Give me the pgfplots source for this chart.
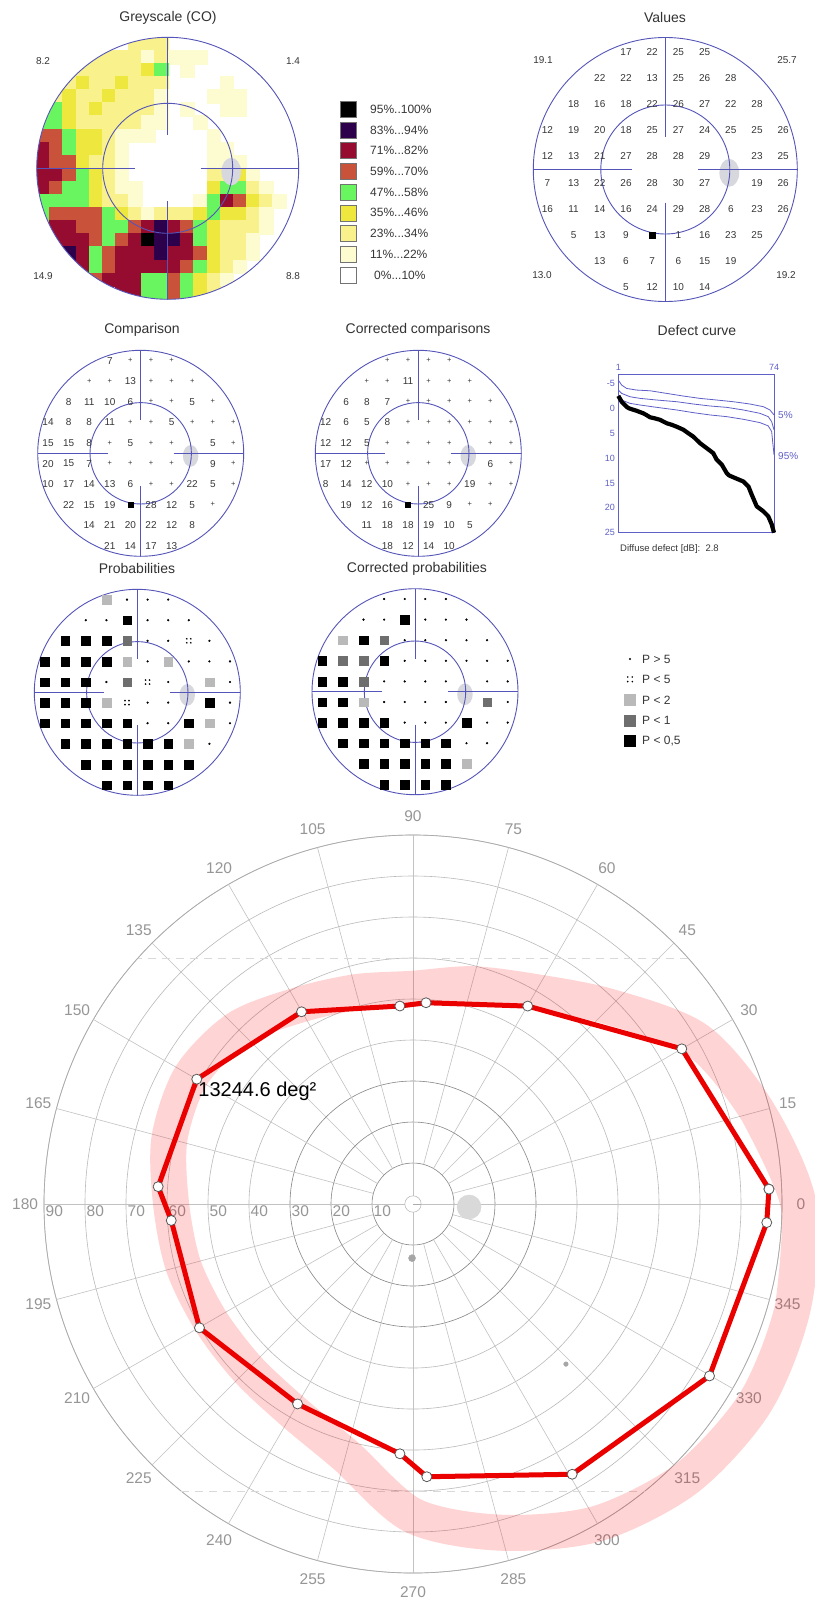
\documentclass[border=0pt]{standalone}
\usepackage{pgfplots}
\pgfplotsset{compat=1.18}
\usepgfplotslibrary{polar}
\usepackage{fontspec}
\setmainfont{Liberation Sans}
\definecolor{fld}{RGB}{85,85,185}
\definecolor{bspot}{RGB}{215,215,222}
\definecolor{txt}{RGB}{55,55,55}
\definecolor{ttlc}{RGB}{50,50,50}
\definecolor{gc1}{RGB}{253,251,208}
\definecolor{gc2}{RGB}{248,241,140}
\definecolor{gc3}{RGB}{238,232,62}
\definecolor{gc4}{RGB}{105,245,95}
\definecolor{gc5}{RGB}{200,82,58}
\definecolor{gc6}{RGB}{150,12,48}
\definecolor{gc7}{RGB}{45,0,75}
\definecolor{gc8}{RGB}{0,0,0}
\definecolor{defblue}{RGB}{95,95,200}
\definecolor{plab}{RGB}{150,150,150}
\definecolor{plight}{RGB}{185,185,185}
\definecolor{pmid}{RGB}{110,110,110}
\pgfdeclareplotmark{fourdots}{%
 \pgfpathcircle{\pgfqpoint{2pt}{2pt}}{0.9pt}%
 \pgfpathcircle{\pgfqpoint{-2pt}{2pt}}{0.9pt}%
 \pgfpathcircle{\pgfqpoint{2pt}{-2pt}}{0.9pt}%
 \pgfpathcircle{\pgfqpoint{-2pt}{-2pt}}{0.9pt}%
 \pgfusepathqfill}
\newcommand\fieldframe[4]{%
 \begin{scope}[shift={(#1pt,-#2pt)}]
  \fill[bspot] ({0.485*#3},{-0.025*#3}) ellipse [x radius={0.075*#3}, y radius={0.105*#3}];
  \draw[fld, line width=0.9pt] (0,0) circle [radius=#3];
  \draw[fld, line width=0.9pt] (0,0) circle [radius=#4];
  \draw[fld, line width=0.75pt] (-#3,0) -- (-33,0) (33,0) -- (#3,0) (0,#3) -- (0,33) (0,-33) -- (0,-#3);
 \end{scope}}
\newcommand\ttl[3]{\node[font=\fontsize{14}{16}\selectfont, text=ttlc] at (#1,-#2) {#3};}
\newcommand\crn[3]{\node[font=\fontsize{10}{12}\selectfont, text=txt] at (#1,-#2) {#3};}
\newcommand\lgsq[3]{\filldraw[fill=#1,draw=black!55,line width=0.6pt] (340.7,{-#2+8}) rectangle (356.7,{-#2-8});
 \node[anchor=west,inner sep=0pt,font=\fontsize{12}{14}\selectfont,text=txt] at (370,-#2) {#3};}
\pgfplotsset{fieldax/.style={hide axis, scale only axis, xmin=-30,xmax=30,ymin=-30,ymax=30, clip=false, anchor=center},
 numstyle/.style={draw=none, mark=none, nodes near coords, point meta=explicit symbolic, nodes near coords align=center,
   nodes near coords style={font=\fontsize{10}{12}\selectfont, text=txt, inner sep=0pt}},
 plusstyle/.style={draw=none, mark=none, nodes near coords, point meta=explicit symbolic, nodes near coords align=center,
   nodes near coords style={font=\fontsize{7.5}{8}\selectfont, text=txt, inner sep=0pt}},
 probstyle/.style={scatter, only marks, scatter src=explicit symbolic,
   scatter/classes={b={mark=square*,fill=black,draw=black,mark size=4.3pt},
     m={mark=square*,fill=pmid,draw=pmid,mark size=4.3pt},
     l={mark=square*,fill=plight,draw=plight,mark size=4.3pt},
     d={mark=*,fill=black,draw=black,mark size=0.9pt},
     q={mark=fourdots,fill=black,draw=black}}}}
\begin{document}
\begin{tikzpicture}[x=1pt,y=1pt]
\fill[white] (0,0) rectangle (814,-1603);
\path[use as bounding box] (0,0) rectangle (814,-1603);
% ---------------- Greyscale map ----------------
\begin{axis}[hide axis, scale only axis, width=262pt, height=262pt, xmin=-10,xmax=10,ymin=-10,ymax=10,
  at={(167.7pt,-168.3pt)}, anchor=center]
\addplot[scatter, only marks, scatter src=explicit symbolic, mark size=6.8pt,
 scatter/classes={a={mark=square*,fill=gc1,draw=gc1},b={mark=square*,fill=gc2,draw=gc2},
 c={mark=square*,fill=gc3,draw=gc3},d={mark=square*,fill=gc4,draw=gc4},e={mark=square*,fill=gc5,draw=gc5},
 f={mark=square*,fill=gc6,draw=gc6},g={mark=square*,fill=gc7,draw=gc7},h={mark=square*,fill=gc8,draw=gc8}}]
coordinates {
(-2.5,9.5)[b] (-1.5,9.5)[b] (-0.5,9.5)[b]
(-5.5,8.5)[b] (-4.5,8.5)[b] (-3.5,8.5)[b] (-2.5,8.5)[b] (-1.5,8.5)[a] (-0.5,8.5)[b] (0.5,8.5)[a] (1.5,8.5)[a] (2.5,8.5)[a]
(-6.5,7.5)[b] (-5.5,7.5)[b] (-4.5,7.5)[b] (-3.5,7.5)[b] (-2.5,7.5)[b] (-1.5,7.5)[c] (-0.5,7.5)[d] (1.5,7.5)[a]
(-7.5,6.5)[b] (-6.5,6.5)[c] (-5.5,6.5)[b] (-4.5,6.5)[b] (-3.5,6.5)[c] (-2.5,6.5)[b] (-1.5,6.5)[b] (-0.5,6.5)[b] (4.5,6.5)[a]
(-8.5,5.5)[b] (-7.5,5.5)[c] (-6.5,5.5)[b] (-5.5,5.5)[b] (-4.5,5.5)[c] (-3.5,5.5)[b] (-2.5,5.5)[b] (-1.5,5.5)[b] (-0.5,5.5)[a] (3.5,5.5)[a] (4.5,5.5)[a] (5.5,5.5)[a]
(-8.5,4.5)[d] (-7.5,4.5)[c] (-6.5,4.5)[b] (-5.5,4.5)[c] (-4.5,4.5)[b] (-3.5,4.5)[b] (-2.5,4.5)[b] (-1.5,4.5)[b] (-0.5,4.5)[a] (1.5,4.5)[a] (4.5,4.5)[a] (5.5,4.5)[a]
(-9.5,3.5)[d] (-8.5,3.5)[d] (-7.5,3.5)[c] (-6.5,3.5)[b] (-5.5,3.5)[b] (-4.5,3.5)[b] (-3.5,3.5)[b] (-2.5,3.5)[b] (-1.5,3.5)[a] (-0.5,3.5)[a] (2.5,3.5)[a]
(-9.5,2.5)[e] (-8.5,2.5)[e] (-7.5,2.5)[d] (-6.5,2.5)[c] (-5.5,2.5)[c] (-4.5,2.5)[b] (-3.5,2.5)[a] (-2.5,2.5)[a] (-1.5,2.5)[a] (3.5,2.5)[a]
(-9.5,1.5)[f] (-8.5,1.5)[e] (-7.5,1.5)[d] (-6.5,1.5)[c] (-5.5,1.5)[c] (-4.5,1.5)[b] (-3.5,1.5)[a] (3.5,1.5)[a] (4.5,1.5)[a]
(-9.5,0.5)[f] (-8.5,0.5)[e] (-7.5,0.5)[e] (-6.5,0.5)[c] (-5.5,0.5)[b] (-4.5,0.5)[b] (-3.5,0.5)[a] (3.5,0.5)[a] (4.5,0.5)[a] (5.5,0.5)[a]
(-9.5,-0.5)[f] (-8.5,-0.5)[f] (-7.5,-0.5)[e] (-6.5,-0.5)[d] (-5.5,-0.5)[c] (-4.5,-0.5)[b] (-3.5,-0.5)[a] (3.5,-0.5)[b] (4.5,-0.5)[b] (5.5,-0.5)[c] (6.5,-0.5)[a]
(-9.5,-1.5)[f] (-8.5,-1.5)[e] (-7.5,-1.5)[d] (-6.5,-1.5)[d] (-5.5,-1.5)[c] (-4.5,-1.5)[b] (-3.5,-1.5)[a] (-2.5,-1.5)[a] (3.5,-1.5)[c] (4.5,-1.5)[d] (5.5,-1.5)[d] (6.5,-1.5)[b] (7.5,-1.5)[a]
(-9.5,-2.5)[d] (-8.5,-2.5)[d] (-7.5,-2.5)[d] (-6.5,-2.5)[d] (-5.5,-2.5)[c] (-4.5,-2.5)[b] (-3.5,-2.5)[b] (-2.5,-2.5)[a] (2.5,-2.5)[a] (3.5,-2.5)[d] (4.5,-2.5)[f] (5.5,-2.5)[e] (6.5,-2.5)[c] (7.5,-2.5)[b] (8.5,-2.5)[a]
(-9.5,-3.5)[d] (-8.5,-3.5)[e] (-7.5,-3.5)[e] (-6.5,-3.5)[e] (-5.5,-3.5)[e] (-4.5,-3.5)[d] (-3.5,-3.5)[c] (-2.5,-3.5)[b] (-1.5,-3.5)[a] (-0.5,-3.5)[b] (0.5,-3.5)[b] (1.5,-3.5)[b] (2.5,-3.5)[c] (3.5,-3.5)[d] (4.5,-3.5)[c] (5.5,-3.5)[c] (6.5,-3.5)[b] (7.5,-3.5)[a]
(-8.5,-4.5)[f] (-7.5,-4.5)[f] (-6.5,-4.5)[e] (-5.5,-4.5)[e] (-4.5,-4.5)[d] (-3.5,-4.5)[d] (-2.5,-4.5)[e] (-1.5,-4.5)[f] (-0.5,-4.5)[g] (0.5,-4.5)[f] (1.5,-4.5)[e] (2.5,-4.5)[d] (3.5,-4.5)[c] (4.5,-4.5)[b] (5.5,-4.5)[b] (6.5,-4.5)[b] (7.5,-4.5)[a]
(-8.5,-5.5)[f] (-7.5,-5.5)[f] (-6.5,-5.5)[f] (-5.5,-5.5)[e] (-4.5,-5.5)[d] (-3.5,-5.5)[e] (-2.5,-5.5)[f] (-1.5,-5.5)[h] (-0.5,-5.5)[g] (0.5,-5.5)[g] (1.5,-5.5)[f] (2.5,-5.5)[d] (3.5,-5.5)[c] (4.5,-5.5)[b] (5.5,-5.5)[b] (6.5,-5.5)[a]
(-7.5,-6.5)[g] (-6.5,-6.5)[f] (-5.5,-6.5)[d] (-4.5,-6.5)[e] (-3.5,-6.5)[f] (-2.5,-6.5)[f] (-1.5,-6.5)[f] (-0.5,-6.5)[g] (0.5,-6.5)[f] (1.5,-6.5)[f] (2.5,-6.5)[e] (3.5,-6.5)[c] (4.5,-6.5)[b] (5.5,-6.5)[b] (6.5,-6.5)[a]
(-6.5,-7.5)[f] (-5.5,-7.5)[d] (-4.5,-7.5)[e] (-3.5,-7.5)[f] (-2.5,-7.5)[f] (-1.5,-7.5)[f] (-0.5,-7.5)[f] (0.5,-7.5)[f] (1.5,-7.5)[e] (2.5,-7.5)[d] (3.5,-7.5)[c] (4.5,-7.5)[b] (5.5,-7.5)[a]
(-5.5,-8.5)[e] (-4.5,-8.5)[f] (-3.5,-8.5)[f] (-2.5,-8.5)[f] (-1.5,-8.5)[d] (-0.5,-8.5)[d] (0.5,-8.5)[e] (1.5,-8.5)[d] (2.5,-8.5)[c] (3.5,-8.5)[b] (4.5,-8.5)[a]
(-3.5,-9.5)[f] (-2.5,-9.5)[f] (-1.5,-9.5)[d] (-0.5,-9.5)[d] (0.5,-9.5)[e] (1.5,-9.5)[d] (2.5,-9.5)[c] (3.5,-9.5)[b]
};
\end{axis}
\fill[white, even odd rule] (20,-20) rectangle (315,-316) (167.7,-168.3) circle [radius=131];
% ---------------- frames ----------------
\fieldframe{167.7}{168.3}{131}{65}
\fieldframe{665.3}{169.5}{132}{64.5}
\fieldframe{140.7}{453.3}{103}{50.7}
\fieldframe{418.3}{453.3}{103}{50.7}
\fieldframe{137.3}{692.3}{103}{50.7}
\fieldframe{415}{691.7}{103}{50.7}
% titles
\ttl{168}{18}{Greyscale (CO)}
\ttl{665}{17}{Values}
\ttl{142}{330}{Comparison}
\ttl{418}{330}{Corrected comparisons}
\ttl{697}{330}{Defect curve}
\ttl{137}{568}{Probabilities}
\ttl{417}{569}{Corrected probabilities}
\crn{43}{61}{8.2} \crn{293}{61}{1.4} \crn{43}{276}{14.9} \crn{293}{276}{8.8}
\crn{543}{60}{19.1} \crn{787}{60}{25.7} \crn{542}{275}{13.0} \crn{786}{275}{19.2}
% greyscale legend
\lgsq{gc8}{109.3}{95\%..100\%}
\lgsq{gc7}{130.0}{83\%...94\%}
\lgsq{gc6}{150.7}{71\%...82\%}
\lgsq{gc5}{171.4}{59\%...70\%}
\lgsq{gc4}{192.1}{47\%...58\%}
\lgsq{gc3}{212.8}{35\%...46\%}
\lgsq{gc2}{233.5}{23\%...34\%}
\lgsq{gc1}{254.2}{11\%...22\%}
\lgsq{white}{274.9}{\hspace{4pt}0\%...10\%}
% ---------------- Values ----------------
\begin{axis}[fieldax, at={(665.3pt,-169.5pt)}, width=262pt, height=262pt]
\addplot[numstyle] coordinates {
(-9,27)[17] (-3,27)[22] (3,27)[25] (9,27)[25]
(-15,21)[22] (-9,21)[22] (-3,21)[13] (3,21)[25] (9,21)[26] (15,21)[28]
(-21,15)[18] (-15,15)[16] (-9,15)[18] (-3,15)[22] (3,15)[26] (9,15)[27] (15,15)[22] (21,15)[28]
(-27,9)[12] (-21,9)[19] (-15,9)[20] (-9,9)[18] (-3,9)[25] (3,9)[27] (9,9)[24] (15,9)[25] (21,9)[25] (27,9)[26]
(-27,3)[12] (-21,3)[13] (-15,3)[21] (-9,3)[27] (-3,3)[28] (3,3)[28] (9,3)[29] (21,3)[23] (27,3)[25]
(-27,-3)[7] (-21,-3)[13] (-15,-3)[22] (-9,-3)[26] (-3,-3)[28] (3,-3)[30] (9,-3)[27] (21,-3)[19] (27,-3)[26]
(-27,-9)[16] (-21,-9)[11] (-15,-9)[14] (-9,-9)[16] (-3,-9)[24] (3,-9)[29] (9,-9)[28] (15,-9)[6] (21,-9)[23] (27,-9)[26]
(-21,-15)[5] (-15,-15)[13] (-9,-15)[9] (3,-15)[1] (9,-15)[16] (15,-15)[23] (21,-15)[25]
(-15,-21)[13] (-9,-21)[6] (-3,-21)[7] (3,-21)[6] (9,-21)[15] (15,-21)[19]
(-9,-27)[5] (-3,-27)[12] (3,-27)[10] (9,-27)[14]
};
\addplot[only marks, mark=square*, mark size=2.7pt, black] coordinates {(-3,-15)};
\end{axis}
% ---------------- Comparison ----------------
\begin{axis}[fieldax, at={(140.7pt,-453.3pt)}, width=206pt, height=206pt]
\addplot[numstyle] coordinates {
(-9,27)[7] (-3,21)[13]
(-21,15)[8] (-15,15)[11] (-9,15)[10] (-3,15)[6] (15,15)[5]
(-27,9)[14] (-21,9)[8] (-15,9)[8] (-9,9)[11] (9,9)[5]
(-27,3)[15] (-21,3)[15] (-15,3)[8] (-3,3)[5] (21,3)[5]
(-27,-3)[20] (-21,-3)[15] (-15,-3)[7] (21,-3)[9]
(-27,-9)[10] (-21,-9)[17] (-15,-9)[14] (-9,-9)[13] (-3,-9)[6] (15,-9)[22] (21,-9)[5]
(-21,-15)[22] (-15,-15)[15] (-9,-15)[19] (3,-15)[28] (9,-15)[12] (15,-15)[5]
(-15,-21)[14] (-9,-21)[21] (-3,-21)[20] (3,-21)[22] (9,-21)[12] (15,-21)[8]
(-9,-27)[21] (-3,-27)[14] (3,-27)[17] (9,-27)[13]
};
\addplot[plusstyle] coordinates {
(-3,27)[+] (3,27)[+] (9,27)[+]
(-15,21)[+] (-9,21)[+] (3,21)[+] (9,21)[+] (15,21)[+]
(3,15)[+] (9,15)[+] (21,15)[+]
(-3,9)[+] (3,9)[+] (15,9)[+] (21,9)[+] (27,9)[+]
(-9,3)[+] (3,3)[+] (9,3)[+] (27,3)[+]
(-9,-3)[+] (-3,-3)[+] (3,-3)[+] (9,-3)[+] (27,-3)[+]
(3,-9)[+] (9,-9)[+] (27,-9)[+]
(21,-15)[+]
};
\addplot[only marks, mark=square*, mark size=2.5pt, black] coordinates {(-3,-15)};
\end{axis}
% ---------------- Corrected comparisons ----------------
\begin{axis}[fieldax, at={(418.3pt,-453.3pt)}, width=206pt, height=206pt]
\addplot[numstyle] coordinates {
(-3,21)[11]
(-21,15)[6] (-15,15)[8] (-9,15)[7]
(-27,9)[12] (-21,9)[6] (-15,9)[5] (-9,9)[8]
(-27,3)[12] (-21,3)[12] (-15,3)[5]
(-27,-3)[17] (-21,-3)[12] (21,-3)[6]
(-27,-9)[8] (-21,-9)[14] (-15,-9)[12] (-9,-9)[10] (15,-9)[19]
(-21,-15)[19] (-15,-15)[12] (-9,-15)[16] (3,-15)[25] (9,-15)[9]
(-15,-21)[11] (-9,-21)[18] (-3,-21)[18] (3,-21)[19] (9,-21)[10] (15,-21)[5]
(-9,-27)[18] (-3,-27)[12] (3,-27)[14] (9,-27)[10]
};
\addplot[plusstyle] coordinates {
(-9,27)[+] (-3,27)[+] (3,27)[+] (9,27)[+]
(-15,21)[+] (-9,21)[+] (3,21)[+] (9,21)[+] (15,21)[+]
(-3,15)[+] (3,15)[+] (9,15)[+] (15,15)[+] (21,15)[+]
(-3,9)[+] (3,9)[+] (9,9)[+] (15,9)[+] (21,9)[+] (27,9)[+]
(-9,3)[+] (-3,3)[+] (3,3)[+] (9,3)[+] (21,3)[+] (27,3)[+]
(-15,-3)[+] (-9,-3)[+] (-3,-3)[+] (3,-3)[+] (9,-3)[+] (27,-3)[+]
(-3,-9)[+] (3,-9)[+] (9,-9)[+] (21,-9)[+] (27,-9)[+]
(15,-15)[+] (21,-15)[+]
};
\addplot[only marks, mark=square*, mark size=2.5pt, black] coordinates {(-3,-15)};
\end{axis}
% ---------------- Probabilities ----------------
\begin{axis}[fieldax, at={(137.3pt,-692.3pt)}, width=206pt, height=206pt]
\addplot[probstyle] coordinates {
(-9,27)[l] (-3,27)[d] (3,27)[d] (9,27)[d]
(-15,21)[d] (-9,21)[d] (-3,21)[b] (3,21)[d] (9,21)[d] (15,21)[d]
(-21,15)[b] (-15,15)[b] (-9,15)[b] (-3,15)[m] (3,15)[d] (9,15)[d] (15,15)[q] (21,15)[d]
(-27,9)[b] (-21,9)[b] (-15,9)[b] (-9,9)[b] (-3,9)[l] (3,9)[d] (9,9)[l] (15,9)[d] (21,9)[d] (27,9)[d]
(-27,3)[b] (-21,3)[b] (-15,3)[b] (-9,3)[d] (-3,3)[m] (3,3)[q] (9,3)[d] (21,3)[l] (27,3)[d]
(-27,-3)[b] (-21,-3)[b] (-15,-3)[b] (-9,-3)[l] (-3,-3)[q] (3,-3)[d] (9,-3)[d] (21,-3)[b] (27,-3)[d]
(-27,-9)[b] (-21,-9)[b] (-15,-9)[b] (-9,-9)[b] (-3,-9)[b] (3,-9)[d] (9,-9)[d] (15,-9)[b] (21,-9)[l] (27,-9)[d]
(-21,-15)[b] (-15,-15)[b] (-9,-15)[b] (-3,-15)[b] (3,-15)[b] (9,-15)[b] (15,-15)[l] (21,-15)[d]
(-15,-21)[b] (-9,-21)[b] (-3,-21)[b] (3,-21)[b] (9,-21)[b] (15,-21)[b]
(-9,-27)[b] (-3,-27)[b] (3,-27)[b] (9,-27)[b]
};
\end{axis}
% ---------------- Corrected probabilities ----------------
\begin{axis}[fieldax, at={(415pt,-691.7pt)}, width=206pt, height=206pt]
\addplot[probstyle] coordinates {
(-9,27)[d] (-3,27)[d] (3,27)[d] (9,27)[d]
(-15,21)[d] (-9,21)[d] (-3,21)[b] (3,21)[d] (9,21)[d] (15,21)[d]
(-21,15)[l] (-15,15)[b] (-9,15)[m] (-3,15)[d] (3,15)[d] (9,15)[d] (15,15)[d] (21,15)[d]
(-27,9)[b] (-21,9)[m] (-15,9)[m] (-9,9)[b] (-3,9)[d] (3,9)[d] (9,9)[d] (15,9)[d] (21,9)[d] (27,9)[d]
(-27,3)[b] (-21,3)[b] (-15,3)[m] (-9,3)[d] (-3,3)[d] (3,3)[d] (9,3)[d] (21,3)[d] (27,3)[d]
(-27,-3)[b] (-21,-3)[b] (-15,-3)[l] (-9,-3)[d] (-3,-3)[d] (3,-3)[d] (9,-3)[d] (21,-3)[m] (27,-3)[d]
(-27,-9)[b] (-21,-9)[b] (-15,-9)[b] (-9,-9)[b] (-3,-9)[d] (3,-9)[d] (9,-9)[d] (15,-9)[b] (21,-9)[d] (27,-9)[d]
(-21,-15)[b] (-15,-15)[b] (-9,-15)[b] (-3,-15)[b] (3,-15)[b] (9,-15)[b] (15,-15)[d] (21,-15)[d]
(-15,-21)[b] (-9,-21)[b] (-3,-21)[b] (3,-21)[b] (9,-21)[b] (15,-21)[l]
(-9,-27)[b] (-3,-27)[b] (3,-27)[b] (9,-27)[b]
};
\end{axis}
% P legend
\fill (630,-659) circle [radius=1.1];
\foreach \dx/\dy in {2.3/2.3,-2.3/2.3,2.3/-2.3,-2.3/-2.3}{\fill ({630+\dx},{-679.3+\dy}) circle [radius=0.9];}
\fill[plight] (624,-694) rectangle (636,-706);
\fill[pmid] (624,-714.7) rectangle (636,-726.7);
\fill[black] (624,-735) rectangle (636,-747);
\foreach \yy/\tt in {659/{P > 5},679.3/{P < 5},700/{P < 2},720.7/{P < 1},741/{P < 0,5}}{
 \node[anchor=west, inner sep=0pt, font=\fontsize{12}{14}\selectfont, text=txt] at (642,-\yy) {\tt};}
% ---------------- Defect curve ----------------
\begin{axis}[at={(618.3pt,-374pt)}, anchor=north west, scale only axis, width=155.7pt, height=158.7pt,
 xmin=1, xmax=74, ymin=-6.9, ymax=25, y dir=reverse,
 axis line style={draw=defblue, line width=0.8pt},
 xtick={1,74}, xticklabel pos=upper, ytick={-5,0,5,10,15,20,25},
 major tick length=0pt,
 tick label style={font=\fontsize{9}{10}\selectfont, text=defblue},
 /pgf/number format/assume math mode=true, clip=false]
\addplot[defblue, line width=0.8pt] coordinates {(1,-5.67) (2.6,-4.67) (4.9,-4.0) (9.6,-3.67) (15.9,-3.53) (23.7,-3.0) (31.5,-2.47) (39.3,-2.0) (47.1,-1.67) (54.9,-1.33) (62.7,-0.87) (69,-0.33) (72.1,0.33) (74,1.33)};
\addplot[defblue, line width=0.8pt] coordinates {(1,-3.67) (2.6,-3.0) (6.5,-2.33) (11.2,-2.0) (19,-1.67) (28.4,-1.33) (36.2,-0.87) (44,-0.47) (51.8,-0.2) (59.6,0.33) (67.4,1.0) (71.3,1.67) (72.9,2.67) (74,4.33)};
\addplot[defblue, line width=0.8pt] coordinates {(1,-2.33) (2.6,-1.67) (6.5,-1.0) (11.2,-0.67) (19,-0.2) (28.4,0.33) (36.2,0.87) (44,1.33) (51.8,1.67) (59.6,2.2) (67.4,2.87) (71.3,3.53) (72.9,4.67) (74,9.33)};
\addplot[black, line width=4.2pt, line join=round] coordinates {(1,-2.5) (2.6,-1.3) (4.9,-0.3) (6,0) (9.6,0.5) (12.7,1.0) (14,1.3) (15.9,1.8) (18,2.0) (20.5,2.3) (23.7,3.0) (26,3.3) (28.4,3.7) (31.5,4.3) (33.8,5.0) (36.2,5.7) (39.3,7.0) (42.4,8.0) (45.5,9.0) (47.1,10.3) (49.5,11.3) (51.8,13.0) (53,13.5) (55.7,14.0) (59.6,14.7) (62,15.7) (63.5,17.3) (65.9,19.7) (69,20.7) (71.3,21.7) (72.9,23.3) (74,25)};
\end{axis}
\node[anchor=west, inner sep=0pt, font=\fontsize{10}{12}\selectfont, text=defblue] at (778,-415) {5\%};
\node[anchor=west, inner sep=0pt, font=\fontsize{10}{12}\selectfont, text=defblue] at (778,-456) {95\%};
\node[anchor=west, inner sep=0pt, font=\fontsize{9.5}{11}\selectfont, text=txt] at (620,-549) {Diffuse defect [dB]:\ \ 2.8};
% ---------------- Polar isopter ----------------
\begin{polaraxis}[
  at={(413pt,-1204pt)}, anchor=center,
  scale only axis, width=738pt, height=738pt,
  ymin=0, ymax=90,
  xtick={0,15,...,345}, xticklabels={},
  ytick={2,40,50,60,70,80,90}, yticklabels={},
  extra y ticks={10,20,30}, extra y tick labels={},
  extra y tick style={major grid style={draw=black!48, line width=0.6pt}},
  xmajorgrids=false, ymajorgrids=true,
  major grid style={draw=black!27, line width=0.6pt},
  axis line style={draw=black!33, line width=0.7pt},
  major tick length=0pt, clip=false]
\pgfplotsinvokeforeach{15,30,45,60,75,105,120,135,150,165,195,210,225,240,255,285,300,315,330,345}{
  \draw[black!24, line width=0.6pt] (axis cs:#1,10) -- (axis cs:#1,90);}
\pgfplotsinvokeforeach{0,90,180,270}{\draw[black!24, line width=0.6pt] (axis cs:#1,2) -- (axis cs:#1,90);}
\draw[black!15, line width=0.6pt, dash pattern=on 8pt off 6pt] (axis cs:41.8,90) -- (axis cs:138.2,90);
\draw[black!15, line width=0.6pt, dash pattern=on 8pt off 6pt] (axis cs:231.1,90) -- (axis cs:308.9,90);
\pgfplotsinvokeforeach{0,15,30,45,60,75,90,105,120,135,150,165,180,195,210,225,240,255,270,285,300,315,330,345}{
  \node[text=plab, font=\fontsize{15.5}{17}\selectfont] at (axis cs:#1,94.6) {#1};}
\pgfplotsinvokeforeach{10,20,30,40,50,60,70,80,90}{
  \node[anchor=north west, inner sep=1.5pt, text=plab, font=\fontsize{15.5}{17}\selectfont] at (axis cs:180,#1) {#1};}
\addplot[red, opacity=0.17, line width=36pt, smooth, line join=round] coordinates {
(-15,96) (0,94) (15,87) (30,80) (45,68) (60,59.7) (75,55.5) (90,52.5) (105,53.5) (120,56) (135,60.5) (150,62.5) (165,61.5) (180,59) (195,58) (210,57) (225,57) (240,58.5) (255,63.5) (270,76) (285,83) (300,90) (315,94.5) (330,96.5) (345,96) (360,94) (375,87)};
\addplot[only marks, mark=*, mark size=12pt, color=black!15] coordinates {(357,13.7)};
\addplot[only marks, mark=*, mark size=3.5pt, color=black!35] coordinates {(269,13.2)};
\addplot[only marks, mark=*, mark size=2.3pt, color=black!35] coordinates {(313.7,54)};
\addplot[color={rgb,255:red,235;green,0;blue,0}, line width=5pt, line join=round, mark=*, mark size=5pt,
  mark options={fill=white, draw=black!65, line width=0.8pt}] coordinates {
(2.4,86.9) (30,75.7) (59.9,55.8) (86.3,49.2) (93.8,48.4) (120.1,54.2) (150,60.9) (176.1,62.3) (183.9,59.1) (210.1,60.2) (240,56.3) (267,61) (272.9,66.6) (300.5,76.5) (329.9,83.6) (357,86.4) (362.4,86.9)};
\node[anchor=north west, inner sep=0pt, xshift=1.5pt, yshift=-3pt, font=\fontsize{20}{22}\selectfont] at (axis cs:150,60.9) {13244.6 deg²};
\end{polaraxis}
\end{tikzpicture}
\end{document}
